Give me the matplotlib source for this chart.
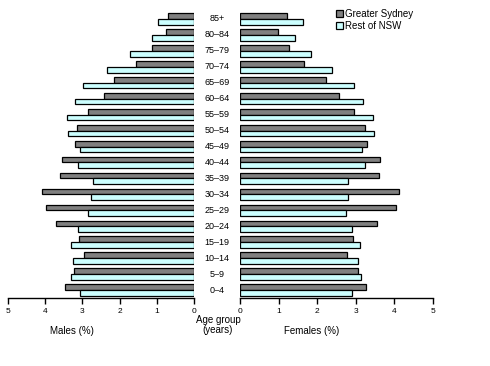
import numpy as np
import matplotlib
matplotlib.use("Agg")
import matplotlib.pyplot as plt

plt.rcParams['font.family'] = ['Liberation Sans', 'DejaVu Sans']

ages = ['0\u20134', '5\u20139', '10\u201314', '15\u201319', '20\u201324', '25\u201329',
        '30\u201334', '35\u201339', '40\u201344', '45\u201349', '50\u201354', '55\u201359',
        '60\u201364', '65\u201369', '70\u201374', '75\u201379', '80\u201384', '85+']

# males (%), 0-4 up to 85+
males_sydney = [3.47, 3.23, 2.96, 3.09, 3.71, 3.98, 4.09, 3.60, 3.55, 3.20,
                3.15, 2.85, 2.42, 2.15, 1.56, 1.13, 0.75, 0.70]
males_rest = [3.06, 3.31, 3.25, 3.31, 3.12, 2.85, 2.77, 2.72, 3.12, 3.06,
              3.39, 3.41, 3.20, 2.98, 2.34, 1.72, 1.13, 0.97]
# females (%)
females_sydney = [3.26, 3.06, 2.77, 2.93, 3.55, 4.04, 4.12, 3.60, 3.63, 3.29,
                  3.24, 2.95, 2.57, 2.23, 1.66, 1.27, 0.99, 1.22]
females_rest = [2.90, 3.13, 3.06, 3.11, 2.90, 2.75, 2.80, 2.80, 3.24, 3.16,
                3.47, 3.44, 3.19, 2.95, 2.39, 1.84, 1.43, 1.64]

grey = '#808080'
cyan = '#ccffff'
h = 0.36
y = np.arange(len(ages))

fig = plt.figure(figsize=(4.9, 3.66), dpi=100)
bottom = (366 - 298) / 366
top = (366 - 11) / 366
axl = fig.add_axes([8 / 490, bottom, (194 - 8) / 490, top - bottom])
axr = fig.add_axes([240 / 490, bottom, (433 - 240) / 490, top - bottom])

for ax, syd, rest in [(axl, males_sydney, males_rest), (axr, females_sydney, females_rest)]:
    ax.barh(y + h / 2, syd, height=h, color=grey, edgecolor='black', linewidth=0.9,
            label='Greater Sydney')
    ax.barh(y - h / 2, rest, height=h, color=cyan, edgecolor='black', linewidth=0.9,
            label='Rest of NSW')
    ax.set_ylim(-0.5, len(ages) - 0.5)
    ax.set_xticks(range(6))
    ax.set_yticks([])
    for s in ['top', 'left', 'right']:
        ax.spines[s].set_visible(False)
    ax.spines['bottom'].set_linewidth(1.0)
    ax.tick_params(axis='x', direction='out', length=4, width=1.0, labelsize=6, pad=3)

axl.set_xlim(5, 0)
axr.set_xlim(0, 5)

for i, a in enumerate(ages):
    fig.text(217 / 490, axl.transData.transform((0, i))[1] / 366, a,
             ha='center', va='center', fontsize=6.5)

fig.text(218 / 490, 1 - 325 / 366, 'Age group\n(years)', ha='center', va='center',
         fontsize=7, linespacing=0.9)
fig.text(72 / 490, 1 - 331 / 366, 'Males (%)', ha='center', va='center', fontsize=7)
fig.text(312 / 490, 1 - 331 / 366, 'Females (%)', ha='center', va='center', fontsize=7)

axr.legend(loc='upper left', bbox_to_anchor=(92 / 193, 1.02), frameon=False,
           fontsize=7, handlelength=0.7, handleheight=0.7, handletextpad=0.2,
           labelspacing=0.2, borderaxespad=0)

fig.savefig('out.png', dpi=100)
